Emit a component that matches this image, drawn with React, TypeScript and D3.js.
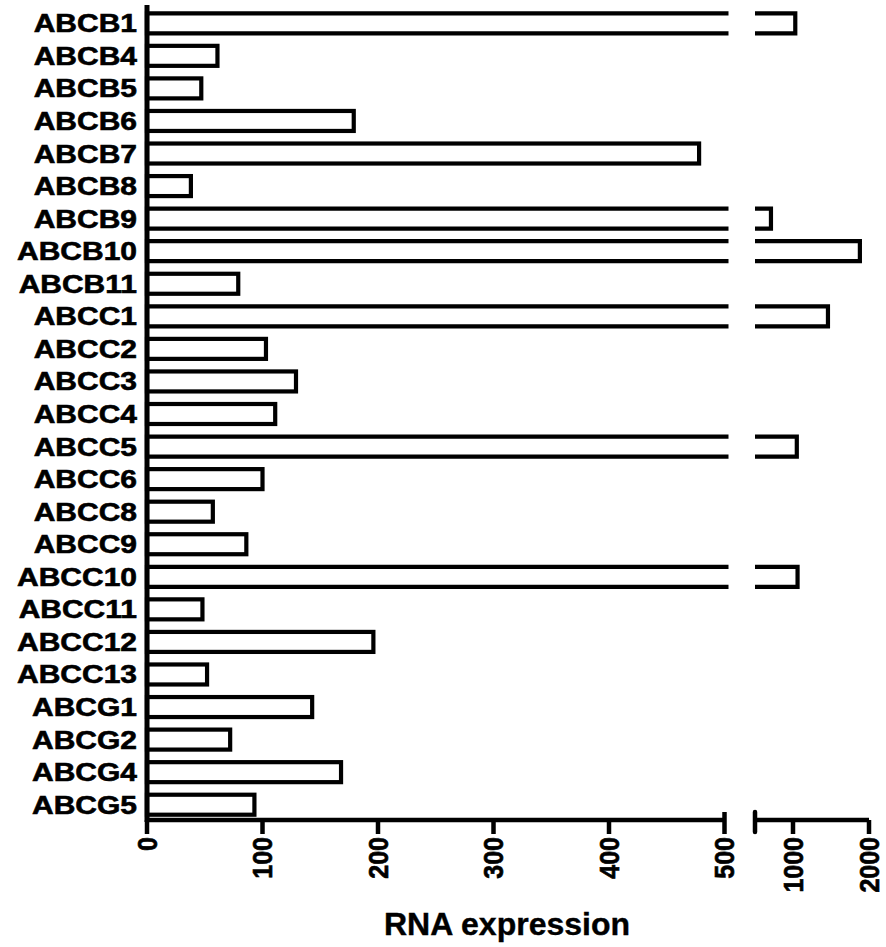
import React from 'react';
import * as d3 from 'd3';

const width = 886;
const height = 947;

const genes = [
    'ABCB1', 'ABCB4', 'ABCB5', 'ABCB6', 'ABCB7', 'ABCB8', 'ABCB9', 'ABCB10', 'ABCB11',
    'ABCC1', 'ABCC2', 'ABCC3', 'ABCC4', 'ABCC5', 'ABCC6', 'ABCC8', 'ABCC9', 'ABCC10',
    'ABCC11', 'ABCC12', 'ABCC13', 'ABCG1', 'ABCG2', 'ABCG4', 'ABCG5',
];
const expression = [
    1030, 61, 47, 179, 478, 38, 710, 1880, 79,
    1460, 103, 129, 111, 1050, 100, 57, 86, 1060,
    48, 196, 52, 143, 72, 168, 93,
];
const lowTicks = [0, 100, 200, 300, 400, 500];
const highTicks = [1000, 2000];
const breakValue = 500;
const maxValue = 2000;

const left = 147;
const axisY = 820;

// two linear pieces on either side of the axis break
const xLow = d3.scaleLinear().domain([0, breakValue]).range([left, 724.5]);
const xHigh = d3.scaleLinear().domain([breakValue, maxValue]).range([755, 869]);
const y = d3.scaleBand<string>()
    .domain(genes)
    .range([7, 821])
    .paddingInner(0.386)
    .paddingOuter(0.193);

const font = '"Liberation Sans", Arial, sans-serif';

function Bar({ name, value }: { name: string; value: number }) {
    const top = y(name) as number;
    const bw = y.bandwidth();
    const bottom = top + bw;
    const x0 = xLow(0);
    if (value <= breakValue) {
        return (
            <rect x={x0} y={top} width={xLow(value) - x0} height={bw}
                fill="#fff" stroke="#000" strokeWidth={4.2} />
        );
    }
    const cut = xLow(breakValue) + 4;
    const start = xHigh(breakValue);
    return (
        <g fill="#fff" stroke="#000" strokeWidth={4.2}>
            <path d={`M${cut},${top}H${x0}V${bottom}H${cut}`} />
            <path d={`M${start},${top}H${xHigh(value)}V${bottom}H${start}`} />
        </g>
    );
}

function TickLabel({ x, label }: { x: number; label: string }) {
    return (
        <text transform={`translate(${x},${axisY + 17}) rotate(-90) scale(1,1.08)`} textAnchor="end" dy="0.36em"
            fontFamily={font} fontWeight="bold" fontSize={25} fill="#000" stroke="#000" strokeWidth={0.6}>
            {label}
        </text>
    );
}

export default function App() {
    return (
        <svg width={width} height={height} style={{ position: 'absolute', left: 0, top: 0, background: '#fff' }}>
            {genes.map((g, i) => (
                <Bar key={g} name={g} value={expression[i]} />
            ))}

            {genes.map(g => (
                <text key={g}
                    transform={`translate(137,${(y(g) as number) + y.bandwidth() / 2}) scale(1.2,1)`}
                    dy="0.36em" textAnchor="end" fontFamily={font} fontWeight="bold" fontSize={25}
                    fill="#000" stroke="#000" strokeWidth={0.6}>
                    {g}
                </text>
            ))}

            {/* left axis */}
            <line x1={left} x2={left} y1={5} y2={axisY + 2} stroke="#000" strokeWidth={5} />

            {/* bottom axis, first piece */}
            <line x1={left - 2} x2={xLow(breakValue)} y1={axisY} y2={axisY} stroke="#000" strokeWidth={4.5} />
            {lowTicks.map(t => (
                <line key={t} x1={xLow(t)} x2={xLow(t)} y1={t === breakValue ? axisY - 8 : axisY} y2={axisY + 14}
                    stroke="#000" strokeWidth={4.5} />
            ))}

            {/* bottom axis, second piece */}
            <line x1={xHigh(breakValue)} x2={xHigh(maxValue)} y1={axisY} y2={axisY} stroke="#000" strokeWidth={4.5} />
            <line x1={xHigh(breakValue)} x2={xHigh(breakValue)} y1={axisY - 8} y2={axisY + 12}
                stroke="#000" strokeWidth={4.5} strokeLinecap="round" />
            {highTicks.map(t => (
                <line key={t} x1={xHigh(t)} x2={xHigh(t)} y1={axisY} y2={axisY + 14} stroke="#000" strokeWidth={4.5} />
            ))}

            {lowTicks.map(t => <TickLabel key={t} x={xLow(t)} label={String(t)} />)}
            {highTicks.map(t => <TickLabel key={t} x={xHigh(t)} label={String(t)} />)}

            <text x={507} y={935} textAnchor="middle" fontFamily={font} fontWeight="bold" fontSize={32}
                fill="#000" stroke="#000" strokeWidth={0.4}>
                RNA expression
            </text>
        </svg>
    );
}
